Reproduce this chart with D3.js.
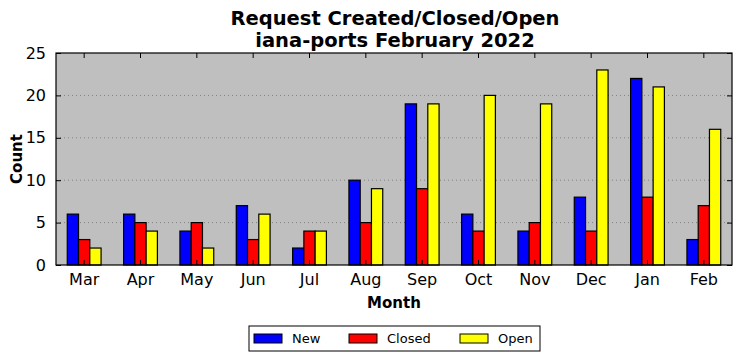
<!DOCTYPE html>
<meta charset='utf-8'>
<title>Request Created/Closed/Open</title>
<style>
body {
  margin: 0;
  background-color: #fff;
}
text {
  font-family: "DejaVu Sans", sans-serif;
}
</style>
<svg width="742" height="361"></svg>
<script src="https://d3js.org/d3.v7.min.js"></script>
<script>

// data
var months = ["Mar", "Apr", "May", "Jun", "Jul", "Aug", "Sep", "Oct", "Nov", "Dec", "Jan", "Feb"];
var newCounts    = [6, 6, 4, 7, 2, 10, 19, 6, 4, 8, 22, 3];
var closedCounts = [3, 5, 5, 3, 4, 5, 9, 4, 5, 4, 8, 7];
var openCounts   = [2, 4, 2, 6, 4, 9, 19, 20, 19, 23, 21, 16];
var yTicks = [0, 5, 10, 15, 20, 25];

var series = [
  { key: "New", values: newCounts, color: "#0000ff" },
  { key: "Closed", values: closedCounts, color: "#ff0000" },
  { key: "Open", values: openCounts, color: "#ffff00" }
];

var svg = d3.select("svg");

// plot box (window.top is reserved, so use a prefix)
var plotL = 56, plotR = 732, plotT = 53, plotB = 265;

var x = d3.scaleBand()
    .domain(months)
    .range([plotL, plotR])
    .padding(0);

var y = d3.scaleLinear()
    .domain([0, 25])
    .range([plotB, plotT]);

var barW = x.bandwidth() * 0.2;

// plot background
svg.append("rect")
    .attr("x", plotL)
    .attr("y", plotT)
    .attr("width", plotR - plotL)
    .attr("height", plotB - plotT)
    .attr("fill", "#bfbfbf");

// dotted grid
svg.append("g")
    .selectAll("line")
    .data(yTicks.filter(function(d) { return d > 0 && d < 25; }))
  .enter().append("line")
    .attr("x1", plotL)
    .attr("x2", plotR)
    .attr("y1", function(d) { return y(d); })
    .attr("y2", function(d) { return y(d); })
    .attr("stroke", "#808080")
    .attr("stroke-width", 1)
    .attr("stroke-dasharray", "1,3");

// bars
series.forEach(function(s, i) {
  svg.append("g")
      .selectAll("rect")
      .data(s.values)
    .enter().append("rect")
      .attr("x", function(d, j) { return x(months[j]) + x.bandwidth() / 2 + (i - 1.5) * barW; })
      .attr("y", function(d) { return y(d); })
      .attr("width", barW)
      .attr("height", function(d) { return y(0) - y(d); })
      .attr("fill", s.color)
      .attr("stroke", "#000")
      .attr("stroke-width", 1.2);
});

// axes (ticks pointing inward on all sides)
var xAxis = svg.append("g")
    .attr("transform", "translate(0," + plotB + ")")
    .call(d3.axisBottom(x).tickSize(-5).tickPadding(9));
var xTop = svg.append("g")
    .attr("transform", "translate(0," + plotT + ")")
    .call(d3.axisTop(x).tickSize(-5).tickFormat(""));
var yAxis = svg.append("g")
    .attr("transform", "translate(" + plotL + ",0)")
    .call(d3.axisLeft(y).tickValues(yTicks).tickSize(-5).tickPadding(10));
var yRight = svg.append("g")
    .attr("transform", "translate(" + plotR + ",0)")
    .call(d3.axisRight(y).tickValues(yTicks).tickSize(-5).tickFormat(""));

[xAxis, xTop, yAxis, yRight].forEach(function(g) {
  g.select(".domain").remove();
  g.selectAll("line").attr("stroke", "#000");
  g.selectAll("text")
      .attr("font-family", "DejaVu Sans")
      .attr("font-size", 16)
      .attr("fill", "#000");
});

// frame
svg.append("rect")
    .attr("x", plotL)
    .attr("y", plotT)
    .attr("width", plotR - plotL)
    .attr("height", plotB - plotT)
    .attr("fill", "none")
    .attr("stroke", "#000")
    .attr("stroke-width", 1.2);

// titles
svg.append("text")
    .attr("x", 395)
    .attr("y", 25)
    .attr("text-anchor", "middle")
    .attr("font-size", 19.5)
    .attr("font-weight", "bold")
    .text("Request Created/Closed/Open");
svg.append("text")
    .attr("x", 395)
    .attr("y", 47)
    .attr("text-anchor", "middle")
    .attr("font-size", 19.5)
    .attr("font-weight", "bold")
    .text("iana-ports February 2022");

svg.append("text")
    .attr("x", 394)
    .attr("y", 308)
    .attr("text-anchor", "middle")
    .attr("font-size", 15)
    .attr("font-weight", "bold")
    .text("Month");

svg.append("text")
    .attr("transform", "translate(22," + ((plotT + plotB) / 2) + ") rotate(-90)")
    .attr("text-anchor", "middle")
    .attr("font-size", 15)
    .attr("font-weight", "bold")
    .text("Count");

// legend
var legend = svg.append("g").attr("transform", "translate(249,326)");
legend.append("rect")
    .attr("width", 291)
    .attr("height", 25)
    .attr("fill", "#fff")
    .attr("stroke", "#000")
    .attr("stroke-width", 1);

var legendX = [5, 100, 211];
series.forEach(function(s, i) {
  legend.append("rect")
      .attr("x", legendX[i])
      .attr("y", 8)
      .attr("width", 28)
      .attr("height", 9)
      .attr("fill", s.color)
      .attr("stroke", "#000")
      .attr("stroke-width", 1);
  legend.append("text")
      .attr("x", legendX[i] + 38)
      .attr("y", 17)
      .attr("font-size", 13)
      .text(s.key);
});
</script>
